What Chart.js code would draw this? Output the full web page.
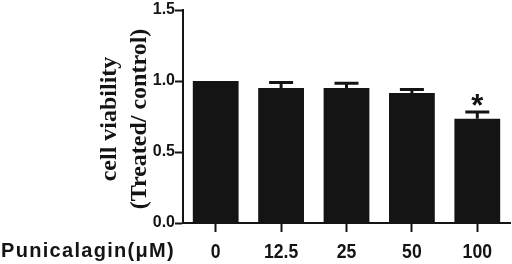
<!DOCTYPE html>
<html>
<head>
<meta charset="utf-8">
<script src="https://cdn.jsdelivr.net/npm/chart.js@4.4.1/dist/chart.umd.min.js"></script>
<style>
  html, body { margin: 0; padding: 0; background: #fff; }
  #wrap { width: 512px; height: 264px; }
</style>
</head>
<body>
<div id="wrap"><canvas id="chart" width="512" height="264"></canvas></div>
<script>
// values
const doses = ['0', '12.5', '25', '50', '100'];
const viability = [1.0, 0.95, 0.95, 0.915, 0.735];
const sem = [0, 0.04, 0.035, 0.025, 0.047];
const marks = ['', '', '', '', '*'];
const yTicks = [0, 0.5, 1.0, 1.5];

const ink = '#141414';

// error bars + significance star, placed through the scales
const errorBars = {
  id: 'errorBars',
  afterDatasetsDraw(chart) {
    const ctx = chart.ctx;
    const y = chart.scales.y;
    const meta = chart.getDatasetMeta(0);
    ctx.save();
    ctx.strokeStyle = ink;
    ctx.lineWidth = 3;
    meta.data.forEach((bar, i) => {
      const top = y.getPixelForValue(viability[i] + sem[i]);
      const base = y.getPixelForValue(viability[i]);
      if (sem[i] > 0) {
        ctx.beginPath();
        ctx.moveTo(bar.x, base);
        ctx.lineTo(bar.x, top);
        ctx.moveTo(bar.x - 12, top);
        ctx.lineTo(bar.x + 12, top);
        ctx.stroke();
      }
      if (marks[i]) {
        ctx.fillStyle = ink;
        ctx.font = 'bold 31px "Liberation Sans", Arial, sans-serif';
        ctx.textAlign = 'center';
        ctx.textBaseline = 'alphabetic';
        const m = ctx.measureText(marks[i]);
        ctx.fillText(marks[i], bar.x, top - 6 - m.actualBoundingBoxDescent);
      }
    });
    ctx.restore();
  }
};

// category labels (tall, condensed like the original) and axis titles
const axisText = {
  id: 'axisText',
  afterDraw(chart) {
    const ctx = chart.ctx;
    const x = chart.scales.x;
    ctx.save();
    ctx.fillStyle = ink;
    ctx.font = 'bold 21px "Liberation Sans", Arial, sans-serif';
    ctx.textAlign = 'center';
    ctx.textBaseline = 'alphabetic';
    doses.forEach((lab, i) => {
      ctx.save();
      ctx.translate(x.getPixelForTick(i), 258);
      ctx.scale(0.84, 1);
      ctx.fillText(lab, 0, 0);
      ctx.restore();
    });

    ctx.textAlign = 'left';
    ctx.font = 'bold 20px "Liberation Sans", Arial, sans-serif';
    ctx.letterSpacing = '1.3px';
    ctx.fillText('Punicalagin(\u03BCM)', 1, 257);
    ctx.letterSpacing = '0px';

    ctx.font = 'bold 24px "Liberation Serif", "Times New Roman", serif';
    ctx.textAlign = 'center';
    ctx.textBaseline = 'middle';
    const cy = 119;
    ctx.save();
    ctx.translate(110, cy);
    ctx.rotate(-Math.PI / 2);
    ctx.fillText('cell viability', 0, 0);
    ctx.restore();
    ctx.save();
    ctx.translate(140, cy);
    ctx.rotate(-Math.PI / 2);
    ctx.fillText('(Treated/ control)', 0, 0);
    ctx.restore();
    ctx.restore();
  }
};

new Chart(document.getElementById('chart'), {
  type: 'bar',
  data: {
    labels: doses,
    datasets: [{
      data: viability,
      backgroundColor: ink,
      borderWidth: 0,
      categoryPercentage: 1.0,
      barPercentage: 0.7
    }]
  },
  options: {
    responsive: false,
    animation: false,
    layout: { padding: { top: 10, right: 2, left: 0, bottom: 0 } },
    plugins: {
      legend: { display: false },
      tooltip: { enabled: false }
    },
    scales: {
      x: {
        afterFit(scale) { scale.height = 41; },
        grid: {
          offset: false,
          drawOnChartArea: false,
          drawTicks: true,
          tickLength: 9,
          tickWidth: 2,
          tickColor: ink
        },
        border: { display: true, color: ink, width: 2 },
        ticks: { display: false }
      },
      y: {
        min: 0,
        max: 1.5,
        afterFit(scale) { scale.width = 183; },
        afterBuildTicks(scale) { scale.ticks = yTicks.map(v => ({ value: v })); },
        grid: {
          drawOnChartArea: false,
          drawTicks: true,
          tickLength: 8,
          tickWidth: 2,
          tickColor: ink
        },
        border: { display: true, color: ink, width: 2 },
        ticks: {
          color: ink,
          padding: 0,
          font: { family: '"Liberation Sans", Arial, sans-serif', size: 16, weight: 'bold' },
          callback: v => Number(v).toFixed(1)
        }
      }
    }
  },
  plugins: [errorBars, axisText]
});
</script>
</body>
</html>
